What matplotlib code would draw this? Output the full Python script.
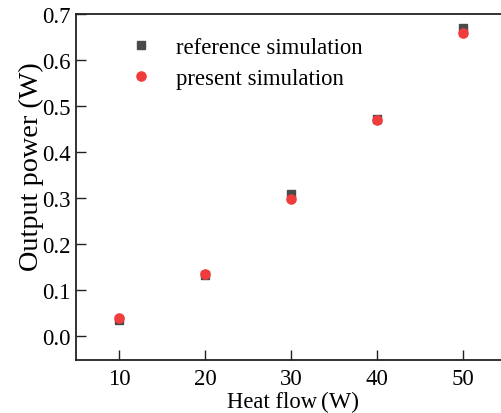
import matplotlib
matplotlib.use("Agg")
import matplotlib.pyplot as plt

plt.rcParams['font.family'] = ['Liberation Serif', 'DejaVu Serif']

heat_flow = [10, 20, 30, 40, 50]
reference_sim = [0.035, 0.133, 0.309, 0.472, 0.670]
present_sim = [0.039, 0.134, 0.299, 0.469, 0.659]
x_ticks = [10, 20, 30, 40, 50]
y_ticks = [0.0, 0.1, 0.2, 0.3, 0.4, 0.5, 0.6, 0.7]

W, H = 502, 414
fig = plt.figure(figsize=(W / 100, H / 100), dpi=100)
# axes box in pixels: left 76, right ~505.6 (beyond image), top 15, bottom 361
left, right, top, bottom = 76, 505.6, 15, 361
ax = fig.add_axes([left / W, (H - bottom) / H, (right - left) / W, (bottom - top) / H])

ax.plot(heat_flow, reference_sim, linestyle='none', marker='s', markersize=5.8,
        color='#4a4a4a', label='reference simulation')
ax.plot(heat_flow, present_sim, linestyle='none', marker='o', markersize=6.6,
        color='#f03c3c', label='present simulation')

ax.set_xlim(5, 55)
ax.set_ylim(-0.052, 0.7)
ax.set_xticks(x_ticks)
ax.set_yticks(y_ticks)
ax.set_yticklabels([f"{v:.1f}" for v in y_ticks])
ax.tick_params(direction='in', length=7, width=1.0, labelsize=16.5, color='#222222',
               top=False, right=False)
ax.tick_params(axis='x', pad=6)
ax.tick_params(axis='y', pad=4)
for s in ax.spines.values():
    s.set_linewidth(1.3)
    s.set_color('#222222')

# axis labels
fig.text(31 / W, (H - 167) / H, 'Output power (W)', rotation=90, ha='center', va='center',
         fontsize=20.3)
fig.text(317 / W, (H - 408) / H, 'Heat flow', ha='right', va='baseline', fontsize=16.3)
fig.text(321 / W, (H - 408) / H, '(W)', ha='left', va='baseline', fontsize=17)

leg = ax.legend(loc='upper left', bbox_to_anchor=(130 / W, (H - 38) / H),
                bbox_transform=fig.transFigure, frameon=False, fontsize=16.4,
                handlelength=1.0, handletextpad=1.0, borderpad=0, borderaxespad=0,
                labelspacing=0.42)

fig.savefig('out.png', dpi=100)
